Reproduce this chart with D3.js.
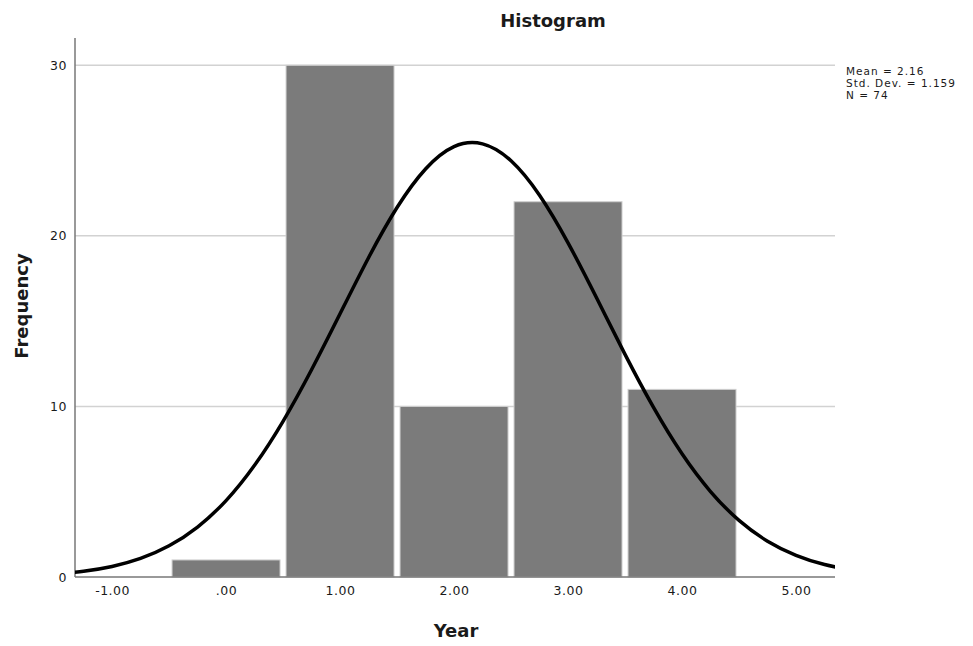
<!DOCTYPE html>
<html>
<head>
<meta charset="utf-8">
<script src="https://cdn.jsdelivr.net/npm/d3@7"></script>
<style>
  body { margin: 0; background: #fff; }
  svg text { font-family: "DejaVu Sans", sans-serif; fill: #1a1a1a; }
</style>
</head>
<body>
<svg id="chart" width="973" height="646"></svg>
<script>
// histogram bins (Year value) and counts
const binCenters = [0, 1, 2, 3, 4];
const binCounts = [1, 30, 10, 22, 11];

// normal curve, every quarter unit
const curveX = [-1.5, -1.25, -1, -0.75, -0.5, -0.25, 0, 0.25, 0.5, 0.75, 1, 1.25, 1.5, 1.75,
  2, 2.25, 2.5, 2.75, 3, 3.25, 3.5, 3.75, 4, 4.25, 4.5, 4.75, 5, 5.25, 5.5];
const curveY = [0.17, 0.34, 0.62, 1.09, 1.83, 2.93, 4.48, 6.55, 9.13, 12.15, 15.43, 18.72, 21.66, 23.92,
  25.23, 25.39, 24.4, 22.38, 19.59, 16.37, 13.05, 9.94, 7.22, 5.01, 3.32, 2.1, 1.27, 0.73, 0.4];

const xTicks = [-1, 0, 1, 2, 3, 4, 5];
const xTickLabels = ["-1.00", ".00", "1.00", "2.00", "3.00", "4.00", "5.00"];
const yTicks = [0, 10, 20, 30];
const statsLines = ["Mean = 2.16", "Std. Dev. = 1.159", "N = 74"];

const svg = d3.select("#chart");
const plotLeft = 75, plotRight = 835, plotTop = 38, plotBottom = 577;

const x = d3.scaleLinear().domain([-1.325, 5.342]).range([plotLeft, plotRight]);
const y = d3.scaleLinear().domain([0, 31.6]).range([plotBottom, plotTop]);

svg.append("defs").append("clipPath").attr("id", "plotClip")
  .append("rect")
  .attr("x", plotLeft).attr("y", 0)
  .attr("width", plotRight - plotLeft).attr("height", plotBottom);

// gridlines
svg.append("g")
  .selectAll("line")
  .data(yTicks.filter(d => d > 0))
  .join("line")
  .attr("x1", plotLeft).attr("x2", plotRight)
  .attr("y1", d => y(d)).attr("y2", d => y(d))
  .attr("stroke", "#d2d2d2").attr("stroke-width", 1.5);

// bars
const gap = 3;
svg.append("g")
  .selectAll("rect")
  .data(binCenters.map((c, i) => ({ c, n: binCounts[i] })))
  .join("rect")
  .attr("x", d => x(d.c - 0.5) + gap)
  .attr("width", d => x(d.c + 0.5) - x(d.c - 0.5) - 2 * gap)
  .attr("y", d => y(d.n))
  .attr("height", d => y(0) - y(d.n))
  .attr("fill", "#7b7b7b")
  .attr("stroke", "#cfcfcf")
  .attr("stroke-width", 1);

// axes
const xAxis = svg.append("g")
  .attr("transform", `translate(0,${plotBottom})`)
  .call(d3.axisBottom(x).tickValues(xTicks).tickSize(0).tickPadding(9)
    .tickFormat((d, i) => xTickLabels[i]));
xAxis.select(".domain").attr("stroke", "#777").attr("stroke-width", 1.5)
  .attr("d", `M${plotLeft},0H${plotRight}`);
xAxis.selectAll("text").style("font-size", "12.5px").style("letter-spacing", "0.5px").attr("fill", "#1a1a1a");

const yAxis = svg.append("g")
  .attr("transform", `translate(${plotLeft},0)`)
  .call(d3.axisLeft(y).tickValues(yTicks).tickSize(0).tickPadding(8));
yAxis.select(".domain").attr("stroke", "#777").attr("stroke-width", 1.5)
  .attr("d", `M0,${plotTop}V${plotBottom}`);
yAxis.selectAll("text").style("font-size", "12.5px").style("letter-spacing", "0.5px").attr("fill", "#1a1a1a");

// normal curve
const line = d3.line()
  .x((d, i) => x(curveX[i]))
  .y(d => y(d))
  .curve(d3.curveNatural);
svg.append("path")
  .datum(curveY)
  .attr("clip-path", "url(#plotClip)")
  .attr("d", line)
  .attr("fill", "none")
  .attr("stroke", "#000")
  .attr("stroke-width", 3.5);

// titles
svg.append("text")
  .attr("x", 553).attr("y", 27)
  .attr("text-anchor", "middle")
  .style("font-size", "18px").style("font-weight", "bold")
  .text("Histogram");

svg.append("text")
  .attr("x", 456).attr("y", 637)
  .attr("text-anchor", "middle")
  .style("font-size", "18px").style("font-weight", "bold")
  .text("Year");

svg.append("text")
  .attr("transform", "translate(28,306) rotate(-90)")
  .attr("text-anchor", "middle")
  .style("font-size", "18px").style("font-weight", "bold")
  .text("Frequency");

// stats box
svg.append("g")
  .selectAll("text")
  .data(statsLines)
  .join("text")
  .attr("x", 846)
  .attr("y", (d, i) => 75 + i * 12)
  .style("font-size", "10.5px")
  .style("letter-spacing", "1px")
  .text(d => d);
</script>
</body>
</html>
